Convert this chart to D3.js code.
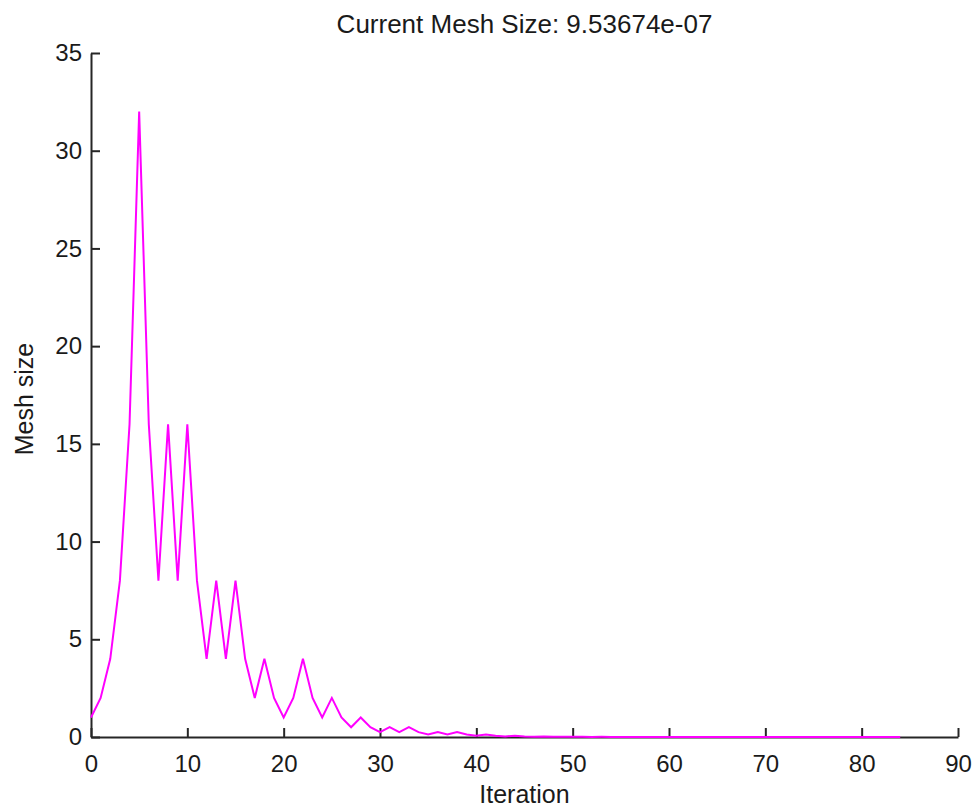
<!DOCTYPE html>
<html>
<head>
<meta charset="utf-8">
<script src="https://cdn.jsdelivr.net/npm/d3@7"></script>
<style>
  html, body { margin: 0; padding: 0; background: #fff; }
  svg { display: block; }
  text { font-family: "Liberation Sans", Arial, sans-serif; fill: #1a1a1a; }
</style>
</head>
<body>
<svg id="chart" width="977" height="808"></svg>
<script>
// ---- Data ----
const titleText = "Current Mesh Size: 9.53674e-07";
const xLabel = "Iteration";
const yLabel = "Mesh size";
const xTicks = [0, 10, 20, 30, 40, 50, 60, 70, 80, 90];
const yTicks = [0, 5, 10, 15, 20, 25, 30, 35];
const iterations = [
  0, 1, 2, 3, 4, 5, 6, 7, 8, 9,
  10, 11, 12, 13, 14, 15, 16, 17, 18, 19,
  20, 21, 22, 23, 24, 25, 26, 27, 28, 29,
  30, 31, 32, 33, 34, 35, 36, 37, 38, 39,
  40, 41, 42, 43, 44, 45, 46, 47, 48, 49,
  50, 51, 52, 53, 54, 55, 56, 57, 58, 59,
  60, 61, 62, 63, 64, 65, 66, 67, 68, 69,
  70, 71, 72, 73, 74, 75, 76, 77, 78, 79,
  80, 81, 82, 83, 84
];
const meshSize = [
  1, 2, 4, 8, 16, 32, 16, 8, 16, 8,
  16, 8, 4, 8, 4, 8, 4, 2, 4, 2,
  1, 2, 4, 2, 1, 2, 1, 0.5, 1, 0.5,
  0.25, 0.5, 0.25, 0.5, 0.25, 0.125, 0.25, 0.125, 0.25, 0.125,
  0.0625, 0.125, 0.0625, 0.03125, 0.0625, 0.03125, 0.015625, 0.03125, 0.015625, 0.0078125,
  0.015625, 0.0078125, 0.00390625, 0.0078125, 0.00390625, 0.001953125, 0.00390625, 0.001953125, 0.0009765625, 0.001953125,
  0.0009765625, 0.00048828125, 0.0009765625, 0.00048828125, 0.000244140625, 0.00048828125, 0.000244140625, 0.0001220703125, 0.000244140625, 0.0001220703125,
  0.00006103515625, 0.0001220703125, 0.00006103515625, 0.000030517578125, 0.00006103515625, 0.000030517578125, 0.0000152587890625, 0.000030517578125, 0.0000152587890625, 0.00000762939453125,
  0.0000152587890625, 0.00000762939453125, 0.000003814697265625, 0.0000019073486328125, 0.00000095367431640625
];

// ---- Layout ----
const W = 977, H = 808;
const plot = { left: 91, right: 958, top: 53, bottom: 737 };
const axisColor = "#262626";

const svg = d3.select("#chart");

const x = d3.scaleLinear().domain([0, 90]).range([plot.left, plot.right]);
const y = d3.scaleLinear().domain([0, 35]).range([plot.bottom, plot.top]);

// X axis (ticks pointing inward)
const gx = svg.append("g")
  .attr("transform", `translate(0,${plot.bottom})`)
  .call(d3.axisBottom(x).tickValues(xTicks).tickSizeInner(-9).tickSizeOuter(0).tickPadding(18).tickFormat(d3.format("d")));
gx.select(".domain").attr("stroke", axisColor).attr("stroke-width", 2);
gx.selectAll(".tick line").attr("stroke", axisColor).attr("stroke-width", 2);
gx.selectAll(".tick text").attr("font-size", 24).attr("font-family", "Liberation Sans, Arial, sans-serif").attr("fill", "#1a1a1a");

// Y axis
const gy = svg.append("g")
  .attr("transform", `translate(${plot.left},0)`)
  .call(d3.axisLeft(y).tickValues(yTicks).tickSizeInner(-9).tickSizeOuter(0).tickPadding(9).tickFormat(d3.format("d")));
gy.select(".domain").attr("stroke", axisColor).attr("stroke-width", 2);
gy.selectAll(".tick line").attr("stroke", axisColor).attr("stroke-width", 2);
gy.selectAll(".tick text").attr("font-size", 24).attr("font-family", "Liberation Sans, Arial, sans-serif").attr("fill", "#1a1a1a");

// Line
const data = iterations.map((it, i) => ({ it, v: meshSize[i] }));
svg.append("path")
  .datum(data)
  .attr("fill", "none")
  .attr("stroke", "#ff00ff")
  .attr("stroke-width", 2)
  .attr("stroke-linejoin", "miter")
  .attr("d", d3.line().x(d => x(d.it)).y(d => y(d.v)));

// Title
svg.append("text")
  .attr("x", (plot.left + plot.right) / 2)
  .attr("y", 33)
  .attr("text-anchor", "middle")
  .attr("font-size", 26)
  .text(titleText);

// X label
svg.append("text")
  .attr("x", (plot.left + plot.right) / 2)
  .attr("y", 803)
  .attr("text-anchor", "middle")
  .attr("font-size", 25)
  .text(xLabel);

// Y label
svg.append("text")
  .attr("transform", `translate(33,${(plot.top + plot.bottom) / 2 + 4}) rotate(-90)`)
  .attr("text-anchor", "middle")
  .attr("font-size", 25)
  .text(yLabel);
</script>
</body>
</html>
